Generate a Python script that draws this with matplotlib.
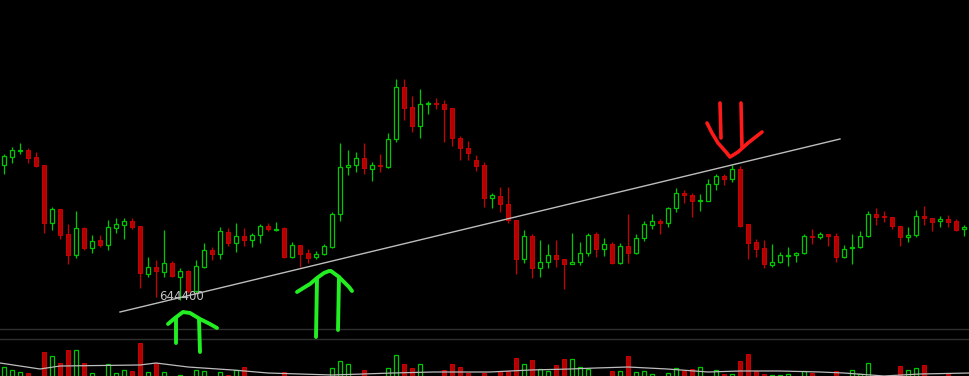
import numpy as np
import matplotlib
matplotlib.use("Agg")
import matplotlib.pyplot as plt

# ── candle data (price units) ────────────────────────────────────────────────
opens = [235, 243, 249, 250, 243, 235, 177, 191, 166, 145, 172, 152, 160, 155, 172, 175, 179, 174, 126, 133,
         128, 137, 123, 129, 109, 133, 150, 146, 168, 157, 164, 160, 165, 174, 170.5, 172, 143, 155, 147, 143,
         146, 153, 186, 233, 235, 242, 231, 235, 233, 261, 313, 293, 274, 296, 297, 296, 292, 262, 252, 240,
         235, 202, 204, 196, 180, 141, 164, 132, 138, 145, 141, 136, 138, 147, 166, 151, 156, 137, 154, 147,
         162, 175, 179, 177, 192, 207, 205, 199, 199, 216, 224, 221, 231, 176, 158, 152, 135, 138, 144, 145,
         147, 164, 163, 166, 164, 143, 152, 153, 164, 186, 184, 183, 174, 163, 165, 184, 182, 179, 181, 179,
         171]
highs = [246, 253, 257, 252, 248, 235, 193, 191, 176, 189, 173, 165, 165, 180, 182, 182, 182, 174, 143, 140,
         170, 139, 132, 130, 140, 157, 153, 173, 172, 177, 172, 167, 176, 177, 178, 173, 158, 155, 151, 149,
         156, 188, 257, 250, 248, 257, 238, 246, 267, 321, 321, 304, 311, 299, 302, 300, 292, 264, 259, 245,
         238, 207, 213, 213, 180, 170, 166, 160, 156, 160, 141, 167, 158, 167, 168, 162, 158, 157, 186, 166,
         179, 186, 181, 193, 212, 210, 207, 206, 221, 226, 226, 235, 234, 176, 161, 160, 156, 148, 153, 148,
         166, 171, 168, 166, 167, 155, 166, 169, 189, 192, 189, 183, 174, 173, 190, 194, 182, 184, 185, 181,
         175]
lows = [226, 237, 246, 237, 233, 167, 170, 161, 136, 142, 150, 147, 153, 150, 167, 161, 171, 112, 123, 103,
        123, 123, 100, 107, 107, 132, 140, 141, 154, 148, 154, 153, 157, 169, 169, 142, 142, 133, 137, 141,
        145, 152, 179, 225, 228, 226, 219, 228, 232, 258, 280, 268, 262, 286, 291, 258, 254, 240, 240, 229,
        193, 192, 188, 177, 126, 137, 122, 123, 132, 133, 111, 136, 135, 144, 143, 144, 136, 136, 137, 146,
        159, 171, 166, 173, 188, 197, 183, 189, 199, 210, 215, 218, 173, 141, 143, 132, 133, 137, 134, 138,
        146, 156, 161, 154, 138, 142, 136, 152, 163, 175, 178, 171, 154, 158, 163, 175, 169, 173, 173, 169,
        164]
closes = [244, 250, 250, 242, 234, 177, 191, 165, 145, 172, 152, 159, 155, 173, 176, 179, 173, 127, 133, 129,
          137, 124, 129, 109, 134, 150, 146, 169, 157, 164, 160, 165, 174, 171, 171, 143, 155, 146, 142, 146,
          154, 186, 233, 235, 242, 232, 235, 234, 261, 313, 292, 274, 296, 297, 296, 291, 262, 252, 247, 234,
          202, 205, 196, 180, 141, 164, 132, 138, 145, 141, 136, 138, 147, 165, 151, 156, 137, 154, 147, 162,
          176, 179, 177, 192, 207, 205, 199, 200, 216, 224, 221, 231, 174, 157, 151, 136, 138, 145, 145, 147,
          164, 163, 166, 164, 143, 151, 153, 164, 186, 183, 183, 174, 163, 165, 184, 182, 178, 181, 178, 170,
          173]

# ── volume (visible part only, rest is below the screen edge) ───────────────
volume = [19, 16, 14, 13, 5, 34, 30, 23, 36, 36, 23, 13, 5, 22, 13, 16, 15, 43, 14, 23,
          14, 5, 11, 5, 16, 15, 5, 14, 11, 16, 19, 5, 5, 5, 5, 14, 5, 5, 5, 5,
          5, 18, 25, 22, 5, 16, 5, 5, 18, 31, 22, 18, 22, 5, 5, 16, 22, 19, 13, 5,
          13, 5, 15, 15, 28, 22, 26, 17, 15, 21, 27, 27, 19, 17, 5, 5, 15, 15, 30, 14,
          15, 12, 5, 13, 18, 15, 17, 19, 5, 16, 12, 12, 25, 32, 15, 12, 11, 11, 12, 5,
          15, 13, 5, 5, 15, 5, 16, 12, 23, 11, 5, 5, 20, 16, 18, 21, 5, 5, 12, 5,
          5]
vol_ma_idx = [-0.5, 4.5, 7, 17, 19, 23, 28.6, 33, 37, 41, 48.6, 53.6, 60.75, 65.75, 70.75, 74, 78,
              82.9, 88, 92, 97, 102, 105, 110, 114.5, 120.75]
vol_ma = [23, 17, 20, 21, 23, 19, 16, 13, 12, 11, 13, 14, 14, 16, 17, 18, 19,
          17, 14, 15, 15, 14, 13, 10, 12, 13]

# trend line (candle index, price) and its label
trend_x = [14.5, 104.5]
trend_y = [88, 261]
trend_label = "644400"

# hand-drawn marks, screen pixels
green_arrow1_head = [(168, 324), (175, 318), (183, 312), (190, 313), (200, 319), (210, 324), (217, 328)]
green_arrow1_shafts = [[(176, 318), (176, 343)], [(199, 319), (200, 352)]]
green_arrow2_head = [(297, 292), (305, 287), (310, 284), (317, 278), (324, 273), (329, 271), (331, 271),
                     (339, 277), (345, 283), (349, 287), (352, 291)]
green_arrow2_shafts = [[(317, 279), (316, 337)], [(339, 277), (338, 330)]]
red_arrow_head = [(707, 123), (712, 133), (718, 143), (726, 152), (730, 157), (738, 152), (748, 143), (762, 132)]
red_arrow_shafts = [[(720, 103), (721, 138)], [(741, 103), (742, 147)]]

UP = "#00c800"
DOWN_FACE = "#b00000"
DOWN_EDGE = "#cc0000"

fig = plt.figure(figsize=(9.7, 3.76), dpi=100, facecolor="black")
ax = fig.add_axes([0, 0, 1, 1])
ax.set_facecolor("black")
ax.set_xlim(-0.5, 120.75)
ax.set_ylim(24, 400)
ax.axis("off")

o = np.array(opens, float)
h = np.array(highs, float)
l = np.array(lows, float)
c = np.array(closes, float)
x = np.arange(len(o))
up = c >= o

# wicks
ax.vlines(x[up], l[up], h[up], color=UP, lw=0.9, zorder=2)
ax.vlines(x[~up], l[~up], h[~up], color=DOWN_EDGE, lw=0.9, zorder=2)
# bodies
body_lo = np.minimum(o, c)
body_h = np.abs(c - o)
ax.bar(x[up], body_h[up], bottom=body_lo[up], width=0.62,
       facecolor="black", edgecolor=UP, lw=0.9, zorder=3)
ax.bar(x[~up], np.maximum(body_h[~up], 0.8), bottom=body_lo[~up], width=0.62,
       facecolor=DOWN_FACE, edgecolor=DOWN_EDGE, lw=0.7, zorder=3)

# trend line + label
ax.plot(trend_x, trend_y, color="#bdbdbd", lw=1.0, zorder=4)
ax.text(22.2, 103, trend_label, color="#c4c4c4", fontsize=8.5,
        ha="center", va="center", zorder=5)

# panel separators
ax.axhline(71, color="#2e2e2e", lw=1.0)
ax.axhline(61, color="#2e2e2e", lw=1.0)

# ── volume panel ─────────────────────────────────────────────────────────────
vax = fig.add_axes([0, 0, 1, 36 / 376])
vax.set_facecolor("none")
vax.set_xlim(-0.5, 120.75)
vax.set_ylim(10, 46)
vax.axis("off")
v = np.array(volume, float)
vax.bar(x[up], v[up], width=0.62, facecolor="black", edgecolor=UP, lw=0.9)
vax.bar(x[~up], v[~up], width=0.62, facecolor=DOWN_FACE, edgecolor=DOWN_EDGE, lw=0.7)
vax.plot(vol_ma_idx, vol_ma, color="#bdbdbd", lw=0.9)

# ── hand-drawn overlay ───────────────────────────────────────────────────────
oax = fig.add_axes([0, 0, 1, 1])
oax.set_facecolor("none")
oax.set_xlim(0, 970)
oax.set_ylim(376, 0)
oax.axis("off")


def stroke(pts, color, lw):
    xs, ys = zip(*pts)
    oax.plot(xs, ys, color=color, lw=lw, solid_capstyle="round",
             solid_joinstyle="round")


for head, shafts in [(green_arrow1_head, green_arrow1_shafts),
                     (green_arrow2_head, green_arrow2_shafts)]:
    stroke(head, "#22ee22", 2.8)
    for s in shafts:
        stroke(s, "#22ee22", 2.8)
stroke(red_arrow_head, "#ff1a1a", 2.6)
for s in red_arrow_shafts:
    stroke(s, "#ff1a1a", 2.6)

fig.savefig("out.png", dpi=100, facecolor="black")
